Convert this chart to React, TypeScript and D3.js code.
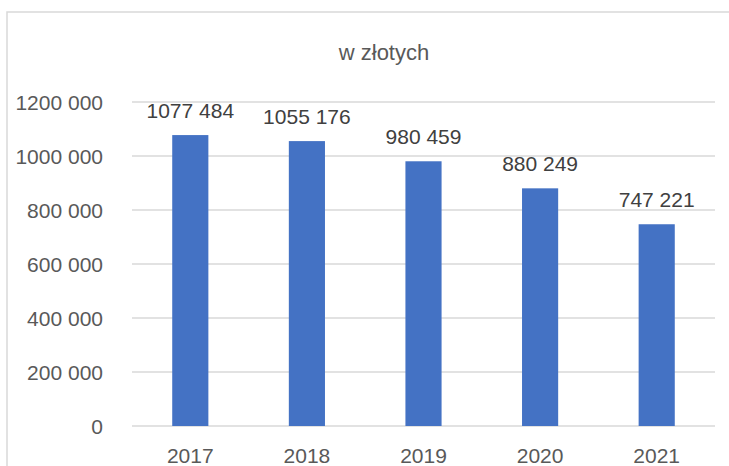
import React from "react";
import * as d3 from "d3";

const years = ["2017", "2018", "2019", "2020", "2021"];
const amounts = [1077484, 1055176, 980459, 880249, 747221];
const yTicks = [0, 200000, 400000, 600000, 800000, 1000000, 1200000];
const chartTitle = "w złotych";

const width = 729;
const height = 466;
const margin = { top: 102, right: 14, bottom: 40, left: 132 };
const font = "'Liberation Sans', Arial, sans-serif";
const textColor = "#595959";

// space as thousands separator, the leading group stays joined ("1200 000")
const fmt = (v: number) => {
  const s = String(v);
  if (s.length <= 3) return s;
  return `${s.slice(0, s.length - 3)} ${s.slice(-3)}`;
};

const App = () => {
  const x = d3
    .scaleBand()
    .domain(years)
    .range([margin.left, width - margin.right])
    .paddingInner(0.69)
    .paddingOuter(0.345);

  const y = d3
    .scaleLinear()
    .domain([0, 1200000])
    .range([height - margin.bottom, margin.top]);

  return (
    <svg
      width={width}
      height={height}
      style={{ position: "fixed", top: 0, left: 0, display: "block", background: "#fff" }}
    >
      {/* chart frame, runs past the right and bottom edges */}
      <rect x={7} y={12} width={width} height={height} fill="#fff" stroke="#d9d9d9" strokeWidth={1.5} />

      <text x={384} y={60} textAnchor="middle" fontFamily={font} fontSize={22} fill={textColor}>
        {chartTitle}
      </text>

      {/* gridlines + y labels */}
      {yTicks.map((t) => (
        <g key={t}>
          <line
            x1={margin.left}
            x2={width - margin.right}
            y1={y(t)}
            y2={y(t)}
            stroke="#d9d9d9"
            strokeWidth={1.5}
          />
          <text x={103} y={y(t) + 7.5} textAnchor="end" fontFamily={font} fontSize={21} fill={textColor}>
            {fmt(t)}
          </text>
        </g>
      ))}

      {/* bars */}
      {years.map((yr, i) => (
        <rect
          key={yr}
          x={x(yr)}
          y={y(amounts[i])}
          width={x.bandwidth()}
          height={y(0) - y(amounts[i])}
          fill="#4472c4"
        />
      ))}

      {/* data labels */}
      {years.map((yr, i) => (
        <text
          key={`lbl-${yr}`}
          x={(x(yr) ?? 0) + x.bandwidth() / 2}
          y={y(amounts[i]) - 17}
          textAnchor="middle"
          fontFamily={font}
          fontSize={21}
          fill="#404040"
        >
          {fmt(amounts[i])}
        </text>
      ))}

      {/* x labels */}
      {years.map((yr) => (
        <text
          key={`x-${yr}`}
          x={(x(yr) ?? 0) + x.bandwidth() / 2}
          y={463}
          textAnchor="middle"
          fontFamily={font}
          fontSize={21}
          fill={textColor}
        >
          {yr}
        </text>
      ))}
    </svg>
  );
};

export default App;
